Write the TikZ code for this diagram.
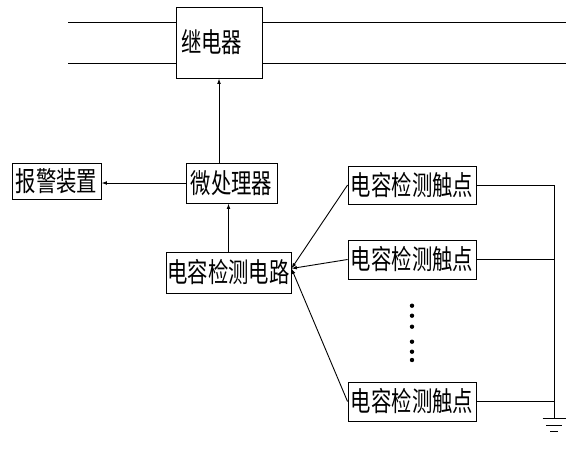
\documentclass[tikz,border=0pt]{standalone}
\usepackage{fontspec}
\usepackage{graphicx}
\newfontfamily\cjk{Noto Sans CJK SC}
\usetikzlibrary{arrows.meta,calc}
\newcommand{\cjktext}[1]{\scalebox{0.97}[1.3]{#1}}
\tikzset{
  box/.style={draw, line width=0.9pt, inner sep=0pt, font=\cjk\fontsize{21}{24}\selectfont},
  wire/.style={line width=0.9pt},
  arr/.style={wire, -{Latex[length=5.5pt,width=3.8pt]}},
  dot/.style={circle, fill, inner sep=0pt, minimum size=4.4pt}
}
\begin{document}
\begin{tikzpicture}[x=1pt,y=-1pt]
\useasboundingbox (0,0) rectangle (581,450);
% relay with bus lines
\node[box, minimum width=86pt, minimum height=71pt, text width=76pt, align=left, inner xsep=5pt] (relay) at (219,42.5) {\raisebox{-4pt}{\cjktext{继电器}}};
\coordinate (L1) at (68,22.7);
\coordinate (L2) at (68,63.3);
\coordinate (R1) at (566,22.7);
\coordinate (R2) at (566,63.3);
\draw[wire] (L1) -- (L1 -| relay.west);
\draw[wire] (L2) -- (L2 -| relay.west);
\draw[wire] (relay.east |- R1) -- (R1);
\draw[wire] (relay.east |- R2) -- (R2);
% boxes
\node[box, minimum width=89pt, minimum height=36pt] (alarm) at (56.5,181) {\cjktext{报警装置}};
\node[box, minimum width=91pt, minimum height=40pt] (micro) at (231.5,183) {\cjktext{微处理器}};
\node[box, minimum width=125pt, minimum height=41pt] (circuit) at (228.5,272.5) {\cjktext{电容检测电路}};
\node[box, minimum width=128pt, minimum height=38pt] (s1) at (412,185) {\cjktext{电容检测触点}};
\node[box, minimum width=128pt, minimum height=39pt] (s2) at (412,259.5) {\cjktext{电容检测触点}};
\node[box, minimum width=128pt, minimum height=39pt] (s3) at (412,401.5) {\cjktext{电容检测触点}};
% arrows
\draw[arr] (micro.north -| relay.south) -- (relay.south);
\draw[arr] (micro.west) -- (micro.west -| alarm.east);
\draw[arr] (circuit.north) -- (circuit.north |- micro.south);
\coordinate (tip) at ($(circuit.east)+(0,-4)$);
\draw[arr] (s1.west) -- (tip);
\draw[arr] (s2.west) -- (tip);
\draw[arr] (s3.west) -- (tip);
% ground bus
\coordinate (gnd) at (554,418);
\draw[wire] (s1.east) -- (s1.east -| gnd);
\draw[wire] (s2.east) -- (s2.east -| gnd);
\draw[wire] (s3.east) -- (s3.east -| gnd);
\draw[wire] (s1.east -| gnd) -- (gnd);
\draw[wire] ($(gnd)+(-11.5,0)$) -- ($(gnd)+(11.5,0)$);
\draw[wire] ($(gnd)+(-8,7)$) -- ($(gnd)+(8,7)$);
\draw[wire] ($(gnd)+(-4,13.5)$) -- ($(gnd)+(4,13.5)$);
% dots
\foreach \yy [count=\i] in {305.7,315.7,326.7,341.7,351.7,360} {
  \node[dot] (d\i) at (412,\yy) {};
}
\end{tikzpicture}
\end{document}
